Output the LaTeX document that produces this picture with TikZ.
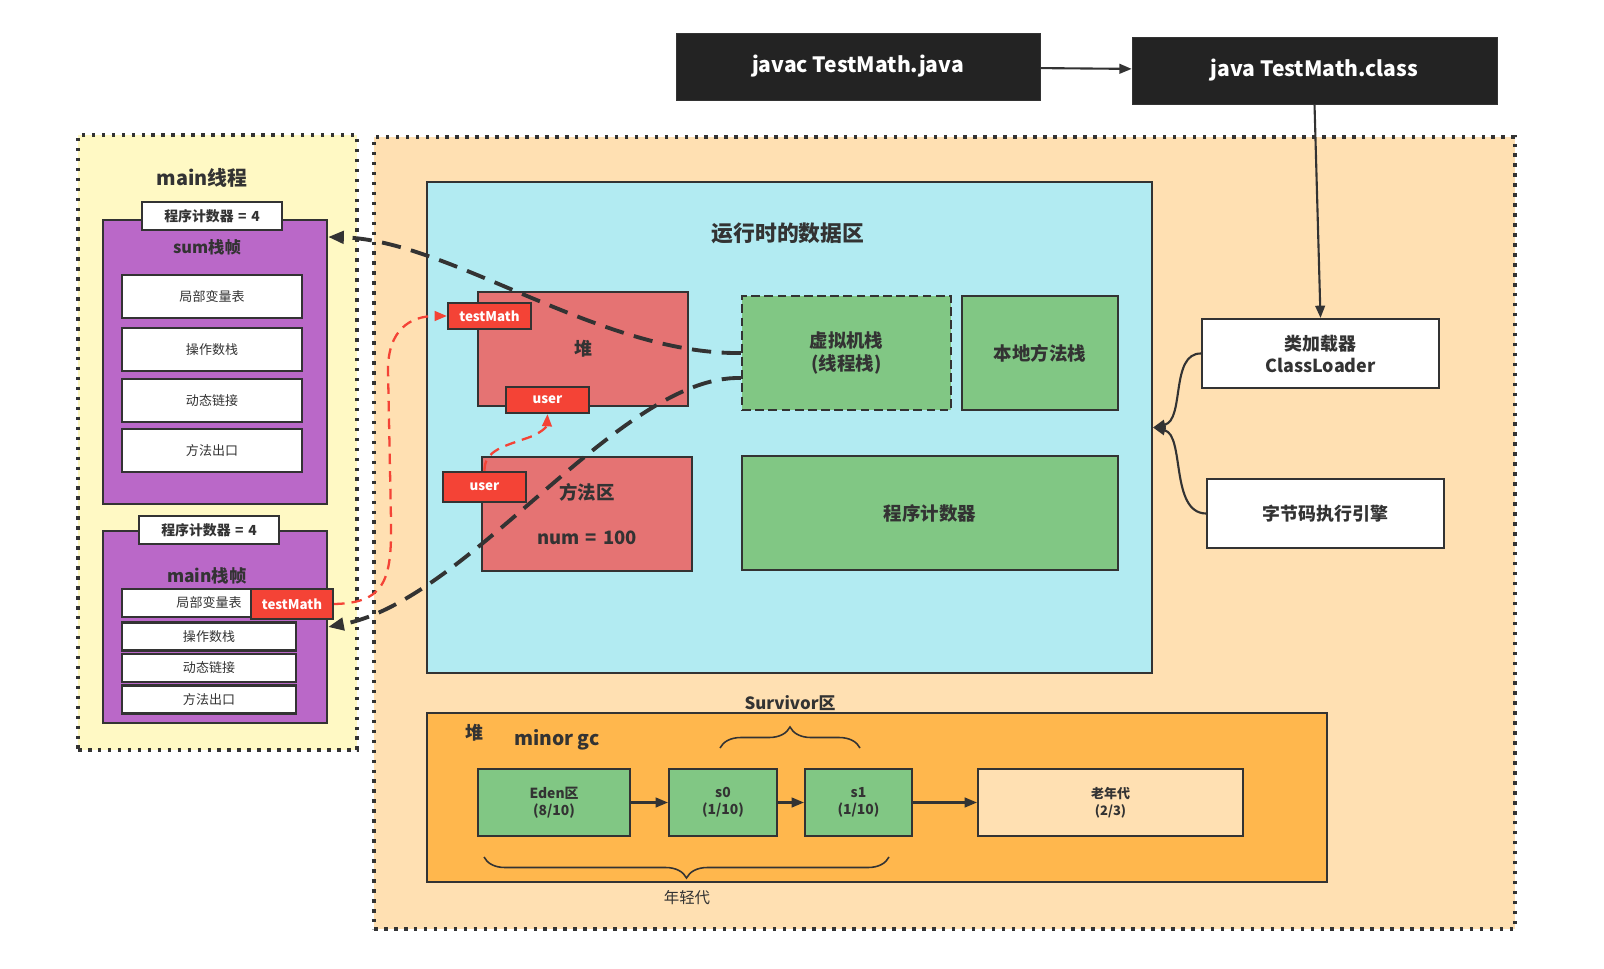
\documentclass[tikz,border=0pt]{standalone}
\usepackage{fontspec}
\setmainfont{Noto Sans CJK SC}
\usetikzlibrary{arrows.meta,decorations.pathreplacing}
\definecolor{ink}{HTML}{333333}
\definecolor{thrcol}{HTML}{FFF9C4}
\definecolor{jvmcol}{HTML}{FFE0B2}
\definecolor{rtdcol}{HTML}{B2EBF2}
\definecolor{heapcol}{HTML}{E57373}
\definecolor{refcol}{HTML}{F44336}
\definecolor{grncol}{HTML}{81C784}
\definecolor{gccol}{HTML}{FFB74D}
\definecolor{purcol}{HTML}{BA68C8}
\definecolor{blkcol}{HTML}{232323}
\newcommand{\fs}[1]{\fontsize{#1}{1.25em}\selectfont}
\newcommand{\gap}{\hspace{0.33em}}
\begin{document}
\begin{tikzpicture}[x=0.02cm, y=-0.02cm,
    dotbox/.style={draw=ink, line width=2pt, dash pattern=on 2pt off 3.67pt, inner sep=0pt},
    framebox/.style={draw=ink, line width=1.2pt, fill=purcol, minimum width=4.48cm, inner sep=0pt},
    slotbox/.style={draw=ink, line width=1.2pt, fill=white, text=ink, inner sep=0pt, font=\fs{7.4}},
    pcbox/.style={draw=ink, line width=1.2pt, fill=white, text=ink, inner sep=0pt, minimum width=2.8cm, minimum height=0.56cm, font=\bfseries\fs{7.9}},
    refbox/.style={draw=ink, line width=1.2pt, fill=refcol, text=white, inner sep=0pt, font=\bfseries\fs{7.6}},
    areabox/.style={draw=ink, line width=1.2pt, text=ink, inner sep=0pt, align=center, font=\bfseries\fs{10.5}},
    cmdbox/.style={draw=ink, fill=blkcol, text=white, inner sep=0pt, minimum height=1.34cm, font=\bfseries\fs{12}},
    genbox/.style={draw=ink, line width=1.2pt, text=ink, inner sep=0pt, align=center, minimum height=1.34cm, font=\bfseries\fontsize{7.9}{9.6}\selectfont},
    heading/.style={text=ink, font=\bfseries\fs{#1}},
    flowarrow/.style={draw=ink, line width=1.2pt, -{Triangle[length=7pt,width=5.5pt]}},
    linkarrow/.style={draw=ink, line width=2.2pt, dash pattern=on 11pt off 6pt, -{Triangle[length=9pt,width=7pt]}},
    refarrow/.style={draw=refcol, line width=1.3pt, dash pattern=on 6pt off 4pt, -{Triangle[length=7pt,width=5.5pt]}},
    bracedeco/.style={draw=ink, line width=0.9pt, decorate, decoration={brace, amplitude=0.42cm}}]
\useasboundingbox (0,0) rectangle (1604,969);
\node (thr) at (217.5,442.5) [dotbox, fill=thrcol, minimum width=5.58cm, minimum height=12.3cm] {};
\node (jvm) at (944.5,533) [dotbox, fill=jvmcol, minimum width=22.82cm, minimum height=15.84cm] {};
\node (thrname) at (202,178) [heading=11.3] {main线程};

\node (sumf) at (215,362) [framebox, minimum height=5.68cm] {};
\node (pcA) at (212,216) [pcbox] {程序计数器\gap=\gap4};
\node (sumname) at (207,247) [heading=9.3] {sum栈帧};
\node (sumv) at (212,296.5) [slotbox, minimum width=3.6cm, minimum height=0.86cm] {局部变量表};
\node (sumo) at (212,349.5) [slotbox, minimum width=3.6cm, minimum height=0.86cm] {操作数栈};
\node (suml) at (212,400.5) [slotbox, minimum width=3.6cm, minimum height=0.86cm] {动态链接};
\node (sumr) at (212,450.5) [slotbox, minimum width=3.6cm, minimum height=0.86cm] {方法出口};

\node (mainf) at (215,627) [framebox, minimum height=3.84cm] {};
\node (pcB) at (209,530) [pcbox] {程序计数器\gap=\gap4};
\node (mainname) at (207,576) [heading=9.9] {main栈帧};
\node (mainv) at (209,603) [slotbox, minimum width=3.48cm, minimum height=0.56cm] {局部变量表};
\node (maino) at (209,636.5) [slotbox, minimum width=3.48cm, minimum height=0.56cm] {操作数栈};
\node (mainl) at (209,668) [slotbox, minimum width=3.48cm, minimum height=0.56cm] {动态链接};
\node (mainr) at (209,699.5) [slotbox, minimum width=3.48cm, minimum height=0.56cm] {方法出口};
\node (tmA) at (292,604) [refbox, minimum width=1.64cm, minimum height=0.6cm] {testMath};

\node (rtd) at (789.5,427.5) [areabox, fill=rtdcol, minimum width=14.5cm, minimum height=9.82cm] {};
\node (rtdname) at (788,233) [heading=12.4] {运行时的数据区};
\node (heap) at (583,349) [areabox, fill=heapcol, minimum width=4.2cm, minimum height=2.28cm, font=\bfseries\fs{10.2}] {堆};
\node (tmB) at (489.5,316) [refbox, minimum width=1.66cm, minimum height=0.52cm] {testMath};
\node (uA) at (547.5,400) [refbox, minimum width=1.66cm, minimum height=0.52cm] {user};
\node (meth) at (587,514) [areabox, fill=heapcol, minimum width=4.2cm, minimum height=2.28cm, font=\bfseries\fontsize{10.5}{25.5}\selectfont] {方法区\\num\gap=\gap100};
\node (uB) at (484.5,487) [refbox, minimum width=1.66cm, minimum height=0.6cm] {user};
\node (vms) at (846.5,353) [areabox, fill=grncol, dash pattern=on 5pt off 2.5pt, minimum width=4.18cm, minimum height=2.28cm, font=\bfseries\fontsize{10.5}{13}\selectfont] {虚拟机栈\\(线程栈)};
\node (nms) at (1040,353) [areabox, fill=grncol, minimum width=3.12cm, minimum height=2.28cm] {本地方法栈};
\node (pcr) at (930,513) [areabox, fill=grncol, minimum width=7.52cm, minimum height=2.28cm] {程序计数器};

\node (cl) at (1320.5,353.5) [areabox, fill=white, minimum width=4.74cm, minimum height=1.38cm, font=\bfseries\fontsize{10.2}{12.5}\selectfont] {类加载器\\ClassLoader};
\node (eng) at (1325.5,513.5) [areabox, fill=white, minimum width=4.74cm, minimum height=1.38cm, font=\bfseries\fs{10.2}] {字节码执行引擎};
\node (javac) at (858,66.5) [cmdbox, minimum width=7.28cm] {javac TestMath.java};
\node (java) at (1314.5,70.5) [cmdbox, minimum width=7.3cm] {java TestMath.class};

\node (gc) at (877,797.5) [areabox, fill=gccol, minimum width=18cm, minimum height=3.38cm] {};
\node (gcname) at (474,733) [heading=10.2] {堆};
\node (gcevent) at (557,740) [heading=11] {minor gc};
\node (survname) at (790,703) [heading=9.6] {Survivor区};
\node (youngname) at (687,898) [text=ink, font=\fs{8.8}] {年轻代};
\node (eden) at (554,802.5) [genbox, fill=grncol, minimum width=3.04cm] {Eden区\\(8/10)};
\node (s0) at (723,802.5) [genbox, fill=grncol, minimum width=2.16cm] {s0\\(1/10)};
\node (s1) at (858.5,802.5) [genbox, fill=grncol, minimum width=2.14cm] {s1\\(1/10)};
\node (old) at (1110.5,802.5) [genbox, fill=jvmcol, minimum width=5.3cm, font=\bfseries\fontsize{7.4}{9.6}\selectfont] {老年代\\(2/3)};

\draw[bracedeco] (720,748) -- (860,748);
\draw[bracedeco] (889,857) -- (484,857);
\draw[flowarrow] (eden) -- (s0);
\draw[flowarrow] (s0) -- (s1);
\draw[flowarrow] (s1) -- (old);
\draw[flowarrow] (javac) -- (java);
\draw[flowarrow] (java.south) -- (cl.north);
\draw[flowarrow] (cl.west) .. controls (1170,353) and (1185,420) .. (rtd.east);
\draw[flowarrow] (eng.west) .. controls (1170,513) and (1185,435) .. (rtd.east);
\draw[linkarrow] (vms.west) .. controls (600,355) and (450,240) .. ([yshift=-0.36cm]sumf.north east);
\draw[linkarrow] ([yshift=-0.5cm]vms.west) .. controls (620,375) and (470,600) .. (mainf.east);
\draw[refarrow] (tmA.east) .. controls (385,603) and (392,580) .. (391,520) -- (388,370) .. controls (388,330) and (410,316) .. (tmB.west);
\draw[refarrow] (uB.north) .. controls (484,450) and (505,446) .. (530,437) .. controls (545,431) and (547,425) .. (uA.south);
\end{tikzpicture}
\end{document}
